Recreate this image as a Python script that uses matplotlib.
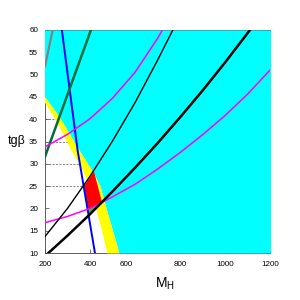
import numpy as np
import matplotlib.pyplot as plt
from matplotlib.transforms import ScaledTranslation

plt.rcParams['font.family'] = ['Liberation Sans', 'DejaVu Sans']
plt.rcParams['mathtext.fontset'] = 'custom'
plt.rcParams['mathtext.rm'] = 'Liberation Sans'

# --- values (M_H, tg beta) ---
# cyan region edge (left edge of cyan) and yellow band left edge, given as M vs tgb
cyan_edge_tb = np.array([60, 44.98, 40.27, 33.09, 28.16, 25.02, 20.09, 14.71, 10])
cyan_edge_M = np.array([-20, 200, 266.7, 351.1, 413.3, 444.4, 471.1, 502.2, 528.9])
yel_edge_tb = np.array([60, 43.63, 39.37, 33.09, 29.73, 26.82, 23.0, 18.97, 14.71, 10])
yel_edge_M = np.array([-40, 200, 253.3, 315.6, 355.6, 382.2, 408.9, 431.1, 453.3, 475.6])
# right edge of the red / green patches
red_edge_tb = np.array([31, 27.7, 21.3, 18])
red_edge_M = np.array([402, 419, 452, 469])

blue_M = np.array([275, 345, 422])
blue_tb = np.array([60, 33, 10])
dkgreen_M = np.array([200, 404])
dkgreen_tb = np.array([31.6, 60])
gray_M = np.array([200, 234])
gray_tb = np.array([51.8, 60])
mag_up_M = np.array([200, 300, 400, 500, 600, 700, 724])
mag_up_tb = np.array([33.8, 36.6, 40.1, 44.7, 50.5, 58.1, 60.2])
mag_lo_M = np.array([200, 300, 400, 452, 500, 600, 700, 800, 900, 1000, 1100, 1200])
mag_lo_tb = np.array([16.8, 18.2, 20.0, 21.3, 22.6, 25.4, 28.8, 32.5, 36.5, 40.8, 45.6, 51])
blk1_M = np.array([200, 300, 400, 500, 600, 700, 768])
blk1_tb = np.array([13.7, 20.0, 27.2, 35.1, 43.7, 53.2, 60])
blk2_M = np.array([215, 300, 400, 500, 600, 700, 800, 900, 1000, 1111])
blk2_tb = np.array([10, 13.9, 18.7, 23.8, 29.1, 34.6, 40.4, 46.4, 52.7, 60])

xticks = [200, 400, 600, 800, 1000, 1200]
yticks = [10, 15, 20, 25, 30, 35, 40, 45, 50, 55, 60]
dash_levels = [25, 30, 35, 40]


def m_at(tb, M, y):
    o = np.argsort(tb)
    return np.interp(y, np.asarray(tb)[o], np.asarray(M)[o])


fig = plt.figure(figsize=(3, 3), dpi=100)
ax = fig.add_axes([0.15, 47 / 300, 0.75, 223 / 300])

yy = np.linspace(10, 60, 2001)
c_edge = m_at(cyan_edge_tb, cyan_edge_M, yy)
y_edge = m_at(yel_edge_tb, yel_edge_M, yy)

ax.hlines(dash_levels, 200, 1200, colors='#555555', linestyles=(0, (3, 2)), lw=0.5, zorder=0.8)
ax.fill_betweenx(yy, c_edge, 1300, color='#00ffff', lw=0, zorder=1)
ax.fill_betweenx(yy, y_edge, c_edge, color='#ffff00', lw=0, zorder=1.1)

# red: right of blue, left of its edge, above lower magenta, below thin black
b = m_at(blue_tb, blue_M, yy)
r = m_at(red_edge_tb, red_edge_M, yy)
l1 = m_at(blk1_tb, blk1_M, yy)
mg = m_at(mag_lo_tb, mag_lo_M, yy)
l2 = m_at(blk2_tb, blk2_M, yy)
left = np.maximum(b, l1)
right = np.minimum(r, mg)
ax.fill_betweenx(yy, left, right, where=left < right, color='#ff0000', lw=0, zorder=1.2)
# green: same sides, between thick black and lower magenta
left = np.maximum(b, mg)
right = np.minimum(r, l2)
ax.fill_betweenx(yy, left, right, where=left < right, color='#22cc22', lw=0, zorder=1.2)

ax.plot(gray_M, gray_tb, color='#808080', lw=1.5, zorder=2)
ax.plot(blue_M, blue_tb, color='#0000ff', lw=1.4, zorder=2.1)
ax.plot(dkgreen_M, dkgreen_tb, color='#006b3c', lw=1.8, zorder=2.2)
ax.plot(mag_up_M, mag_up_tb, color='#ff00ff', lw=1.1, zorder=2.3)
ax.plot(mag_lo_M, mag_lo_tb, color='#ff00ff', lw=1.1, zorder=2.3)
ax.plot(blk1_M, blk1_tb, color='black', lw=1.0, zorder=2.4)
ax.plot(blk2_M, blk2_tb, color='black', lw=1.8, zorder=2.4)

ax.set_xlim(200, 1200)
ax.set_ylim(10, 60)
ax.set_xticks(xticks)
ax.set_yticks(yticks)
ax.tick_params(direction='in', length=3, width=0.5, labelsize=5.8, top=True, right=True, colors='#444444', labelcolor='black')
ax.tick_params(axis='x', pad=6)
ax.tick_params(axis='y', pad=5)
for s in ax.spines.values():
    s.set_linewidth(0.6)
    s.set_color('#444444')
    s.set_zorder(0.5)
ax.set_axisbelow(True)

# the 600 label sits a bit to the left in the reference
lab = ax.get_xticklabels()
lab[2].set_transform(lab[2].get_transform() + ScaledTranslation(-0.09, 0, fig.dpi_scale_trans))

fig.text(8 / 300, 1 - 141 / 300, 'tgβ', fontsize=9, va='center', ha='left')
fig.text(155 / 300, 1 - 284 / 300, r'M$_{\rm H}$', fontsize=10, va='center', ha='left')

fig.savefig('out.png', dpi=100)
